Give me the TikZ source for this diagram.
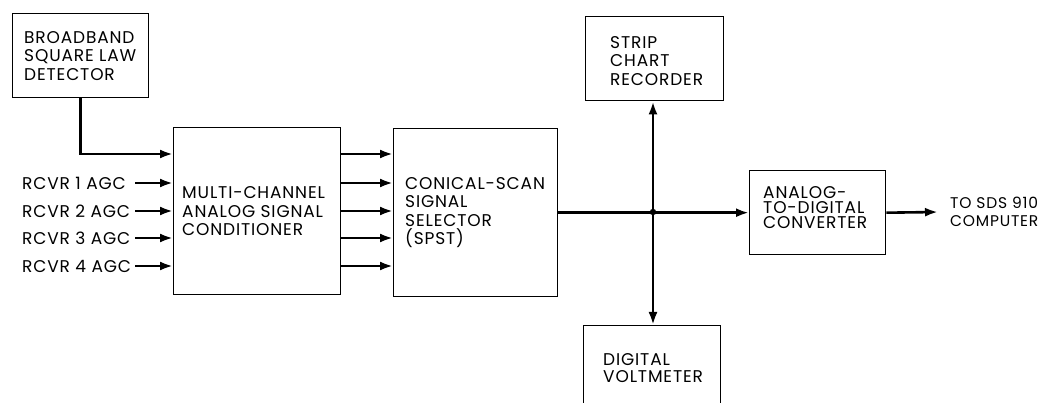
\documentclass[tikz,border=0pt]{standalone}
\usepackage{fontspec}
\setmainfont{Poppins}[LetterSpace=5]
\usetikzlibrary{arrows.meta,calc}
\begin{document}
\begin{tikzpicture}[x=1pt,y=-1pt,
  box/.style={draw, line width=1.4pt, rectangle, inner sep=0pt, anchor=north west},
  lbl/.style={font=\fontsize{17}{18.5}\selectfont, align=left, inner sep=0pt, anchor=west},
  wire/.style={line width=2.6pt},
  arr/.style={wire, -{Latex[length=13pt,width=9pt]}}]
\useasboundingbox (0,0) rectangle (1045,403);
\clip (0,0) rectangle (1045,403);
% boxes
\node[box, minimum width=136pt, minimum height=84pt] (bb) at (12,13) {};
\node[box, minimum width=167pt, minimum height=167pt] (multi) at (173,127) {};
\node[box, minimum width=164pt, minimum height=168pt] (conical) at (393,128) {};
\node[box, minimum width=138pt, minimum height=84pt] (strip) at (585,16) {};
\node[box, minimum width=137pt, minimum height=86pt] (volt) at (583,325) {};
\node[box, minimum width=136pt, minimum height=84pt] (adc) at (749,170) {};
% texts
\node[lbl] (bbt) at ([xshift=12pt]bb.west) {BROADBAND\\SQUARE LAW\\DETECTOR};
\node[lbl] (multit) at ([xshift=9pt]multi.west) {MULTI-CHANNEL\\ANALOG SIGNAL\\CONDITIONER};
\node[lbl] (conicalt) at ([xshift=12pt]conical.west) {CONICAL-SCAN\\SIGNAL\\SELECTOR\\(SPST)};
\node[lbl] (stript) at ([shift={(25,2)}]strip.west) {STRIP\\CHART\\RECORDER};
\node[lbl, font=\fontsize{17}{16.5}\selectfont] (voltt) at (603,368) {DIGITAL\\VOLTMETER};
\node[lbl, font=\fontsize{17}{15}\selectfont] (adct) at ([shift={(14,-5)}]adc.west) {ANALOG-\\TO-DIGITAL\\CONVERTER};
\node[lbl, font=\fontsize{15.5}{18.5}\selectfont] (tosds) at (950,212) {TO SDS 910\\COMPUTER};
\node[lbl] (r1) at (22,183) {RCVR 1 AGC};
\node[lbl] (r2) at (22,211) {RCVR 2 AGC};
\node[lbl] (r3) at (22,238) {RCVR 3 AGC};
\node[lbl] (r4) at (22,266) {RCVR 4 AGC};
% connectors
\draw[arr] (bb.south) |- (multi.west |- 0,154);
\foreach \i/\y in {1/183,2/211,3/238,4/266}{
  \coordinate (s\i) at (135,\y);
  \draw[arr] (s\i) -- (s\i -| multi.west);
}
\foreach \y in {154,183,211,238,266}{
  \draw[arr] (multi.east |- 0,\y) -- (conical.west |- 0,\y);
}
\coordinate (j) at (653,212);
\draw[arr] (conical.east) -- (adc.west);
\draw[arr] (j) -- (j |- strip.south);
\draw[arr] (j) -- (j |- volt.north);
\fill (j) circle (3.2pt);
\coordinate (out) at (938,212);
\draw[arr] (adc.east) -- (out);
\end{tikzpicture}
\end{document}
